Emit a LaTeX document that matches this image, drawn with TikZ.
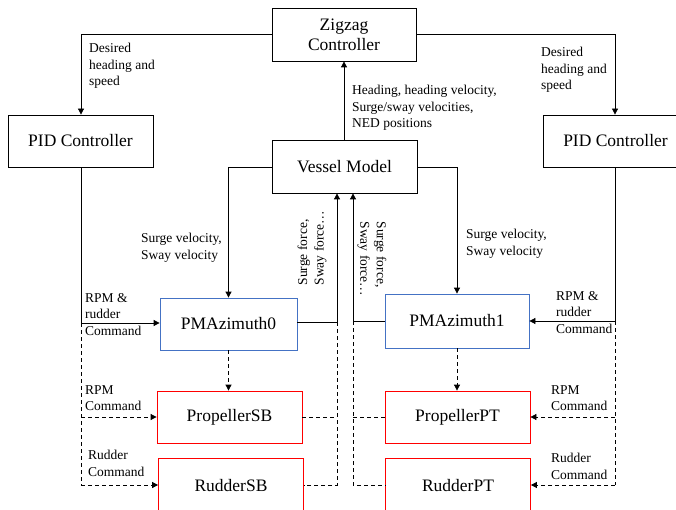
\documentclass[tikz,border=0pt]{standalone}
\usepackage{fontspec}
\setmainfont{Liberation Serif}
\usetikzlibrary{arrows.meta}
\definecolor{azblue}{RGB}{68,114,196}
\definecolor{prred}{RGB}{255,0,0}
\tikzset{
  box/.style={draw, line width=0.8pt, minimum width=145pt, minimum height=52pt, inner sep=0pt, align=center, font=\fontsize{17.5}{20}\selectfont},
  lbl/.style={font=\fontsize{13.5}{16.5}\selectfont, align=left, inner sep=0pt},
  conn/.style={line width=0.8pt},
  arr/.style={conn, -{Triangle[length=6pt,width=6pt]}},
  dconn/.style={line width=0.8pt, dash pattern=on 4pt off 3pt},
  darr/.style={dconn, -{Triangle[length=6pt,width=6pt]}},
}
\begin{document}
\begin{tikzpicture}[x=1pt,y=-1pt]
\useasboundingbox (0,0) rectangle (676,510);
\clip (0,0) rectangle (676,510);
% boxes
\node[box, minimum width=144pt, minimum height=53pt] (zig) at (344,34.5) {Zigzag\\Controller};
\node[box] (pidL) at (80.5,141) {PID Controller};
\node[box] (pidR) at (615.5,141) {PID Controller};
\node[box, minimum height=53pt] (ves) at (344.5,166.5) {Vessel Model};
\node[box, draw=azblue, minimum width=137pt] (az0) at (228.5,324) {PMAzimuth0};
\node[box, draw=azblue, minimum width=144pt, minimum height=54pt] (az1) at (457,321) {PMAzimuth1};
\node[box, draw=prred] (prSB) at (229.5,417) {PropellerSB};
\node[box, draw=prred] (prPT) at (457.5,417) {PropellerPT};
\node[box, draw=prred, minimum height=56pt] (ruSB) at (231,486) {RudderSB};
\node[box, draw=prred, minimum height=56pt] (ruPT) at (458,486) {RudderPT};
% coordinates
\coordinate (fl) at (337,322);
\coordinate (fr) at (353,321);
\coordinate (flb) at (337,485);
\coordinate (frb) at (353,485);
\coordinate (pl) at (81,323);
\coordinate (plb) at (81,485);
\coordinate (pr) at (615,321);
\coordinate (prb) at (615,485);
% zigzag to PIDs
\draw[arr] (zig.west |- 0,34) -| (pidL.north -| 81,0);
\draw[arr] (zig.east |- 0,34) -| (pidR.north -| 615,0);
% vessel to zigzag
\draw[arr] (ves.north -| 344,0) -- (zig.south -| 344,0);
% vessel to azimuths
\draw[arr] (ves.west |- 0,167) -| (az0.north);
\draw[arr] (ves.east |- 0,167) -| (az1.north);
% azimuth outputs to vessel
\draw[arr] (az0.east |- fl) -- (fl) -- (ves.south -| fl);
\draw[arr] (az1.west |- fr) -- (fr) -- (ves.south -| fr);
% PID to azimuths
\draw[arr] (pidL.south -| pl) -- (pl) -- (az0.west |- pl);
\draw[arr] (pidR.south -| pr) -- (pr) -- (az1.east |- pr);
% dashed: PID commands
\draw[dconn] (pl) -- (plb);
\draw[darr] (pl |- 0,417) -- (prSB.west |- 0,417);
\draw[darr] (plb) -- (ruSB.west |- plb);
\draw[dconn] (pr) -- (prb);
\draw[darr] (pr |- 0,417) -- (prPT.east |- 0,417);
\draw[darr] (prb) -- (ruPT.east |- prb);
% dashed: azimuth to propellers
\draw[darr] (az0.south) -- (prSB.north -| az0.south);
\draw[darr] (az1.south) -- (prPT.north -| az1.south);
% dashed: propellers/rudders to vessel lines
\draw[dconn] (fl) -- (flb) -- (ruSB.east |- flb);
\draw[dconn] (prSB.east |- 0,417) -- (fl |- 0,417);
\draw[dconn] (fr) -- (frb) -- (ruPT.west |- frb);
\draw[dconn] (prPT.west |- 0,417) -- (fr |- 0,417);
% labels
\node[lbl, anchor=north west] (l1) at (89,43) {Desired\\heading and\\speed};
\node[lbl, anchor=north west] (l2) at (541,47) {Desired\\heading and\\speed};
\node[lbl, anchor=north west] (l3) at (352,85) {Heading, heading velocity,\\Surge/sway velocities,\\NED positions};
\node[lbl, anchor=north east, align=left] (l4) at (222,233) {Surge velocity,\\Sway velocity};
\node[lbl, anchor=north west] (l5) at (466,229) {Surge velocity,\\Sway velocity};
\node[lbl, anchor=north west] (l6) at (85,293) {RPM \&\\rudder\\Command};
\node[lbl, anchor=north west] (l7) at (556,291) {RPM \&\\rudder\\Command};
\node[lbl, anchor=north west] (l8) at (85,385) {RPM\\Command};
\node[lbl, anchor=north west] (l9) at (551,385) {RPM\\Command};
\node[lbl, anchor=north west] (l10) at (88,450) {Rudder\\Command};
\node[lbl, anchor=north west] (l11) at (551,453) {Rudder\\Command};
\node[lbl, rotate=90, align=left] (l12) at (312,248) {Surge force,\\Sway force\ldots};
\node[lbl, rotate=-90, align=left] (l13) at (372,259) {Surge force,\\Sway force\ldots};
\end{tikzpicture}
\end{document}
